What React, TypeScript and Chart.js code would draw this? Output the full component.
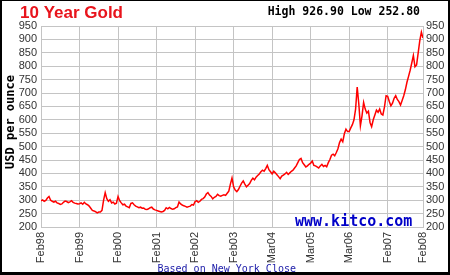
import React, { useEffect, useRef } from "react";
import { Chart, registerables } from "chart.js";

Chart.register(...registerables);

// ---- data (semi-monthly gold closes, USD/oz) ----
const tickLabels = ["Feb98", "Feb99", "Feb00", "Feb01", "Feb02", "Feb03", "Mar04", "Mar05", "Mar06", "Feb07", "Feb08"];

const prices98 = [298, 301, 296, 299, 308, 314, 300, 296, 293, 296, 290, 288, 284, 286, 292, 297, 295, 291, 294, 298, 292, 289, 288, 286];
const prices99 = [287, 290, 285, 292, 286, 283, 278, 270, 262, 260, 257, 253, 256, 256, 262, 300, 328, 306, 296, 302, 290, 293, 286, 289];
const prices00 = [314, 298, 290, 283, 285, 278, 275, 272, 288, 290, 283, 278, 275, 272, 274, 270, 271, 266, 265, 268, 272, 274, 267, 264];
const prices01 = [262, 260, 258, 256, 258, 262, 272, 268, 273, 269, 266, 268, 272, 275, 293, 286, 282, 279, 277, 274, 276, 278, 284, 282];
const prices02 = [295, 298, 292, 296, 303, 306, 312, 323, 328, 319, 314, 305, 311, 314, 322, 317, 315, 318, 320, 318, 326, 334, 360, 383];
const prices03 = [350, 338, 332, 340, 352, 364, 372, 360, 350, 356, 362, 374, 382, 376, 386, 392, 398, 406, 412, 408, 418, 430, 414, 406];
const prices04 = [398, 408, 402, 395, 388, 380, 390, 394, 398, 404, 396, 402, 408, 412, 420, 428, 440, 452, 456, 440, 432, 424, 428, 434];
const prices05 = [438, 446, 430, 428, 424, 420, 428, 434, 426, 430, 425, 440, 452, 468, 472, 466, 478, 492, 515, 528, 518, 548, 565, 556];
const prices06 = [556, 570, 582, 600, 640, 722, 660, 578, 615, 665, 640, 625, 632, 590, 574, 600, 618, 636, 628, 640, 622, 618, 648, 690];
const prices07 = [688, 668, 652, 662, 680, 690, 676, 668, 655, 672, 690, 712, 740, 762, 785, 812, 840, 798, 805, 850, 895, 927, 905];

const yearBlocks = [prices98, prices99, prices00, prices01, prices02, prices03, prices04, prices05, prices06, prices07];

const titleText = "10 Year Gold";
const highValue = 926.9;
const lowValue = 252.8;
const yAxisTitle = "USD per ounce";
const siteText = "www.kitco.com";
const noteText = "Based on New York Close";

const yMin = 200;
const yMax = 950;
const yStep = 50;

export default function App() {
  const canvasRef = useRef<HTMLCanvasElement | null>(null);

  useEffect(() => {
    const canvas = canvasRef.current;
    if (!canvas) return;

    const prices: number[] = ([] as number[]).concat(...yearBlocks);
    const points = prices.map((p, i) => ({ x: i, y: p }));
    const tickPositions: number[] = [];
    let acc = 0;
    for (const block of yearBlocks.slice(0, yearBlocks.length - 1)) {
      tickPositions.push(acc);
      acc += block.length;
    }
    tickPositions.push(acc);
    tickPositions.push(prices.length - 1);

    const statsText = `High ${highValue.toFixed(2)} Low ${lowValue.toFixed(2)}`;

    const decor = {
      id: "decor",
      beforeDraw(chart: any) {
        const ctx = chart.ctx;
        ctx.save();
        ctx.fillStyle = "#ffffff";
        ctx.fillRect(0, 0, chart.width, chart.height);
        ctx.restore();
      },
      afterDraw(chart: any) {
        const ctx = chart.ctx as CanvasRenderingContext2D;
        ctx.save();
        ctx.textBaseline = "alphabetic";

        ctx.fillStyle = "#e8141c";
        ctx.font = "bold 17px 'Liberation Sans', Arial, sans-serif";
        ctx.textAlign = "left";
        ctx.fillText(titleText, 20, 18);

        ctx.fillStyle = "#000000";
        ctx.font = "bold 11.5px 'DejaVu Sans Mono', monospace";
        ctx.textAlign = "right";
        ctx.fillText(statsText, 420, 15);

        ctx.fillStyle = "#0000c8";
        ctx.font = "bold 15px 'DejaVu Sans Mono', monospace";
        ctx.textAlign = "left";
        ctx.fillText(siteText, 295, 226);

        ctx.fillStyle = "#1a1aa8";
        ctx.font = "10px 'DejaVu Sans Mono', monospace";
        ctx.textAlign = "left";
        ctx.fillText(noteText, 157.5, 272);

        ctx.save();
        ctx.translate(13.5, 122);
        ctx.rotate(-Math.PI / 2);
        ctx.fillStyle = "#000000";
        ctx.font = "bold 12px 'DejaVu Sans Mono', monospace";
        ctx.textAlign = "center";
        ctx.fillText(yAxisTitle, 0, 0);
        ctx.restore();

        ctx.fillStyle = "#000000";
        ctx.fillRect(0, 0, 450, 1);
        ctx.fillRect(0, 0, 2, 275);
        ctx.fillRect(448, 0, 2, 275);
        ctx.fillRect(0, 272, 450, 3);
        ctx.restore();
      },
    };

    const gridColor = "#c4c4c4";
    const tickFont = { family: "'Liberation Sans', Arial, sans-serif", size: 11 };

    const chart = new Chart(canvas, {
      type: "line",
      data: {
        datasets: [
          {
            data: points,
            borderColor: "#ff0000",
            borderWidth: 1.5,
            pointRadius: 0,
            tension: 0,
            fill: false,
          },
        ],
      },
      options: {
        responsive: false,
        animation: false,
        layout: { padding: { top: 26, left: 0, right: 0, bottom: 0 } },
        plugins: { legend: { display: false }, tooltip: { enabled: false }, title: { display: false } },
        scales: {
          x: {
            type: "linear",
            min: 0,
            max: prices.length - 1,
            afterBuildTicks: (scale: any) => {
              scale.ticks = tickPositions.map((v) => ({ value: v }));
            },
            afterFit: (scale: any) => {
              scale.height = 48;
            },
            grid: { color: gridColor, drawTicks: false, lineWidth: 1 },
            border: { color: gridColor },
            ticks: {
              autoSkip: false,
              minRotation: 90,
              maxRotation: 90,
              padding: 5,
              color: "#333333",
              font: tickFont,
              callback: (_v: any, i: number) => tickLabels[i],
            },
          },
          y: {
            position: "left",
            min: yMin,
            max: yMax,
            afterFit: (scale: any) => {
              scale.width = 41;
            },
            grid: { color: gridColor, drawTicks: false, lineWidth: 1 },
            border: { color: gridColor },
            ticks: { stepSize: yStep, autoSkip: false, padding: 4, color: "#333333", font: tickFont },
          },
          y2: {
            position: "right",
            min: yMin,
            max: yMax,
            afterFit: (scale: any) => {
              scale.width = 27;
            },
            grid: { display: false, drawTicks: false },
            border: { color: gridColor },
            ticks: { stepSize: yStep, autoSkip: false, padding: 3, color: "#333333", font: tickFont },
          },
        },
      },
      plugins: [decor],
    } as any);

    return () => chart.destroy();
  }, []);

  return (
    <div style={{ position: "fixed", left: 0, top: 0, width: 450, height: 275 }}>
      <canvas ref={canvasRef} width={450} height={275} style={{ display: "block", width: 450, height: 275 }} />
    </div>
  );
}
